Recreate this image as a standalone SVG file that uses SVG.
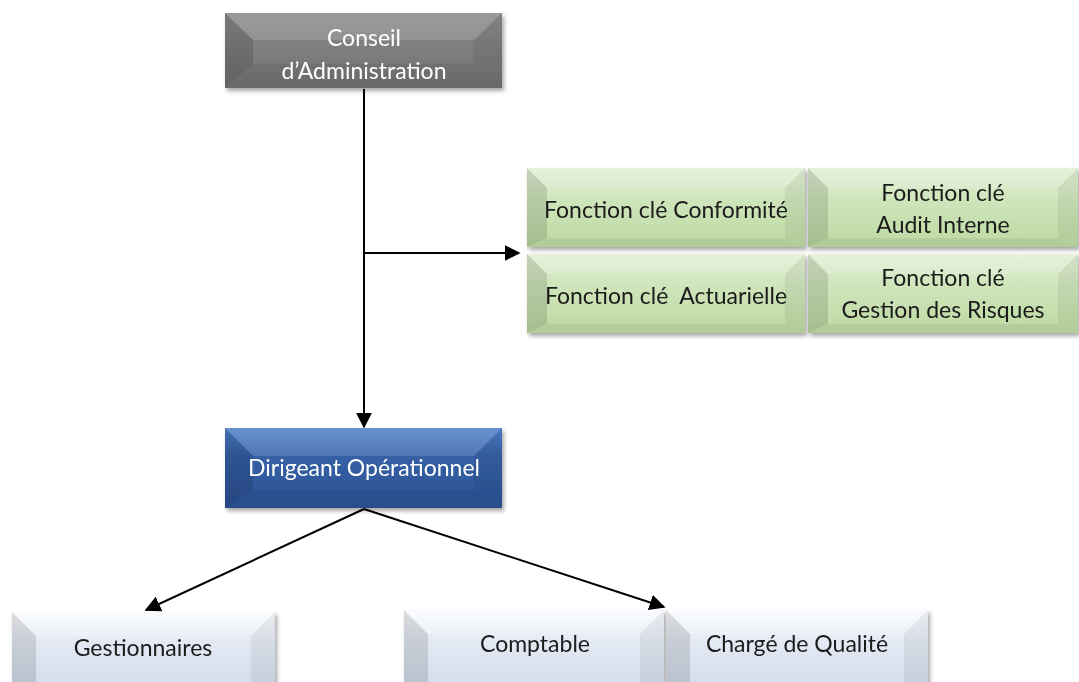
<svg xmlns="http://www.w3.org/2000/svg" width="1079" height="682" viewBox="0 0 1079 682">
<style>
text{font-family:Lato,"Liberation Sans",sans-serif;font-size:23px;text-anchor:middle}
.w{fill:#ffffff}
.k{fill:#1a1a1a}
.lf{fill:#000;opacity:.12}
.rf{fill:#000;opacity:.06}
.tf{fill:#fff;opacity:.14}
.bf{fill:#000;opacity:.06}
.ln{stroke:#000;stroke-width:2;fill:none}
</style>
<defs>
<linearGradient id="gGray" x1="0" y1="0" x2="0" y2="1"><stop offset="0" stop-color="#8a8a8a"/><stop offset="1" stop-color="#707070"/></linearGradient>
<linearGradient id="gBlue" x1="0" y1="0" x2="0" y2="1"><stop offset="0" stop-color="#4f7fc8"/><stop offset="0.35" stop-color="#3560a6"/><stop offset="1" stop-color="#2c5293"/></linearGradient>
<linearGradient id="gGreen" x1="0" y1="0" x2="0" y2="1"><stop offset="0" stop-color="#e2f0d6"/><stop offset="0.4" stop-color="#cfe5bb"/><stop offset="1" stop-color="#bcd9a2"/></linearGradient>
<linearGradient id="gLb" x1="0" y1="0" x2="0" y2="1"><stop offset="0" stop-color="#fbfcfe"/><stop offset="0.4" stop-color="#e4eaf4"/><stop offset="1" stop-color="#d3dcec"/></linearGradient>
<filter id="sh" x="-5%" y="-10%" width="112%" height="130%"><feDropShadow dx="2" dy="3" stdDeviation="2" flood-color="#000" flood-opacity="0.35"/></filter>
<marker id="arr" viewBox="0 0 10 10" refX="9" refY="5" markerWidth="8" markerHeight="8" orient="auto"><path d="M0,0 L10,5 L0,10 z" fill="#000"/></marker>
</defs>

<g id="connectors">
<line class="ln" x1="364" y1="89" x2="364" y2="427" marker-end="url(#arr)"/>
<line class="ln" x1="364" y1="253" x2="519" y2="253" marker-end="url(#arr)"/>
<line class="ln" x1="364" y1="509" x2="146" y2="610" marker-end="url(#arr)"/>
<line class="ln" x1="364" y1="509" x2="664" y2="607" marker-end="url(#arr)"/>
</g>

<g id="conseil" filter="url(#sh)">
<rect x="225" y="13" width="277" height="75" fill="url(#gGray)"/>
<polygon class="lf" points="225,13 253,40 253,64 225,88"/>
<polygon class="rf" points="502,13 474,40 474,64 502,88"/>
<polygon class="tf" points="225,13 502,13 474,40 253,40"/>
<polygon class="bf" points="225,88 502,88 474,64 253,64"/>
<text class="w" x="364" y="46">Conseil</text>
<text class="w" x="364" y="79">d’Administration</text>
</g>

<g id="conformite" filter="url(#sh)">
<rect x="527" y="168" width="278" height="79" fill="url(#gGreen)"/>
<polygon class="lf" points="527,168 547,188 547,238 527,247"/>
<polygon class="rf" points="805,168 785,188 785,238 805,247"/>
<polygon class="tf" points="527,168 805,168 785,188 547,188"/>
<polygon class="bf" points="527,247 805,247 785,238 547,238"/>
<text class="k" x="666" y="218">Fonction clé Conformité</text>
</g>

<g id="audit" filter="url(#sh)">
<rect x="808" y="168" width="270" height="79" fill="url(#gGreen)"/>
<polygon class="lf" points="808,168 828,188 828,238 808,247"/>
<polygon class="rf" points="1078,168 1058,188 1058,238 1078,247"/>
<polygon class="tf" points="808,168 1078,168 1058,188 828,188"/>
<polygon class="bf" points="808,247 1078,247 1058,238 828,238"/>
<text class="k" x="943" y="201">Fonction clé</text>
<text class="k" x="943" y="233">Audit Interne</text>
</g>

<g id="actuarielle" filter="url(#sh)">
<rect x="527" y="254" width="278" height="79" fill="url(#gGreen)"/>
<polygon class="lf" points="527,254 547,274 547,324 527,333"/>
<polygon class="rf" points="805,254 785,274 785,324 805,333"/>
<polygon class="tf" points="527,254 805,254 785,274 547,274"/>
<polygon class="bf" points="527,333 805,333 785,324 547,324"/>
<text class="k" x="666" y="304" xml:space="preserve">Fonction clé  Actuarielle</text>
</g>

<g id="risques" filter="url(#sh)">
<rect x="808" y="254" width="270" height="79" fill="url(#gGreen)"/>
<polygon class="lf" points="808,254 828,274 828,324 808,333"/>
<polygon class="rf" points="1078,254 1058,274 1058,324 1078,333"/>
<polygon class="tf" points="808,254 1078,254 1058,274 828,274"/>
<polygon class="bf" points="808,333 1078,333 1058,324 828,324"/>
<text class="k" x="943" y="286">Fonction clé</text>
<text class="k" x="943" y="318">Gestion des Risques</text>
</g>

<g id="dirigeant" filter="url(#sh)">
<rect x="225" y="428" width="277" height="80" fill="url(#gBlue)"/>
<polygon class="lf" points="225,428 253,456 253,490 225,508"/>
<polygon class="rf" points="502,428 474,456 474,490 502,508"/>
<polygon class="tf" points="225,428 502,428 474,456 253,456"/>
<polygon class="bf" points="225,508 502,508 474,490 253,490"/>
<text class="w" x="364" y="476">Dirigeant Opérationnel</text>
</g>

<g id="gestionnaires" filter="url(#sh)">
<rect x="12" y="612" width="263" height="75" fill="url(#gLb)"/>
<polygon class="lf" points="12,612 36,636 36,690 12,690"/>
<polygon class="rf" points="275,612 251,636 251,690 275,690"/>
<polygon class="tf" points="12,612 275,612 251,636 36,636"/>
<text class="k" x="143" y="656">Gestionnaires</text>
</g>

<g id="comptable" filter="url(#sh)">
<rect x="404" y="610" width="260" height="77" fill="url(#gLb)"/>
<polygon class="lf" points="404,610 428,634 428,690 404,690"/>
<polygon class="rf" points="664,610 640,634 640,690 664,690"/>
<polygon class="tf" points="404,610 664,610 640,634 428,634"/>
<text class="k" x="535" y="652">Comptable</text>
</g>

<g id="qualite" filter="url(#sh)">
<rect x="666" y="610" width="262" height="77" fill="url(#gLb)"/>
<polygon class="lf" points="666,610 690,634 690,690 666,690"/>
<polygon class="rf" points="928,610 904,634 904,690 928,690"/>
<polygon class="tf" points="666,610 928,610 904,634 690,634"/>
<text class="k" x="797" y="652">Chargé de Qualité</text>
</g>
</svg>
